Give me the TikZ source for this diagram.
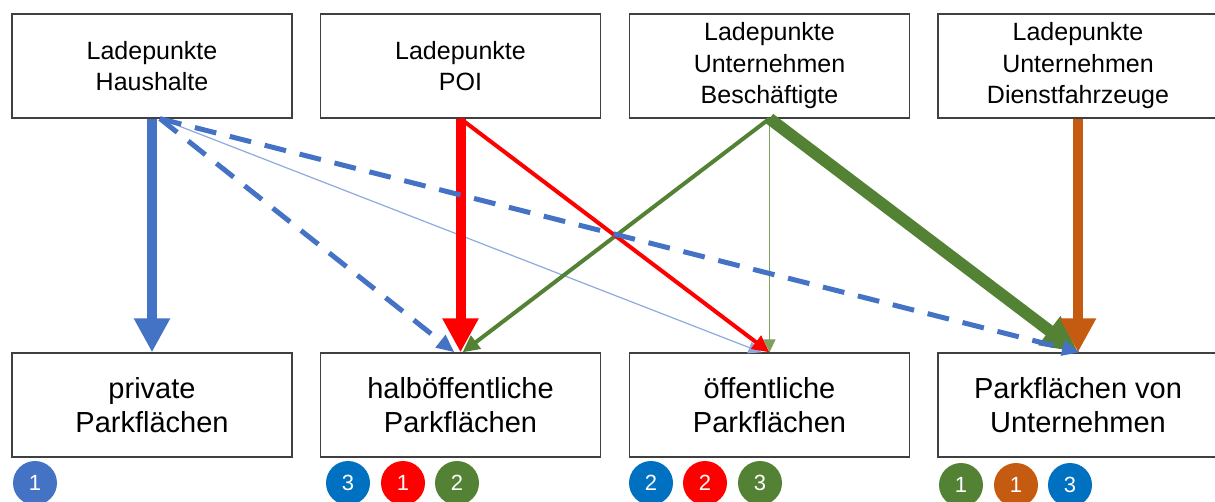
\documentclass[tikz,border=0pt]{standalone}
\usepackage{fontspec}
\setmainfont{Liberation Sans}
\usetikzlibrary{arrows.meta}
\definecolor{cblue}{HTML}{4472C4}
\definecolor{cltblue}{HTML}{8FAADC}
\definecolor{cdblue}{HTML}{0070C0}
\definecolor{cred}{HTML}{FF0000}
\definecolor{cgreen}{HTML}{548235}
\definecolor{cltgreen}{HTML}{7FA05F}
\definecolor{corange}{HTML}{C55A11}
\definecolor{cbox}{HTML}{404040}
\begin{document}
\begin{tikzpicture}[x=1pt,y=-1pt,
 box/.style={draw=cbox, line width=1.3pt, minimum width=280pt, minimum height=104pt, inner sep=0pt, align=center},
 topbox/.style={box, font=\fontsize{25}{31.5}\selectfont},
 botbox/.style={box, font=\fontsize{29}{34}\selectfont},
 badge/.style={circle, minimum size=44pt, inner sep=0pt, text=white, font=\fontsize{22}{22}\selectfont},
 bigarrow/.style={line width=10pt, -{Triangle[length=34pt,width=34pt]}},
 hugearrow/.style={line width=12pt, -{Triangle[length=36pt,width=34pt]}},
 midarrow/.style={line width=4pt, -{Triangle[length=17pt,width=16pt]}},
 thinarrow/.style={line width=1.2pt, -{Triangle[length=13pt,width=12pt]}},
 dasharrow/.style={cblue, line width=5pt, dash pattern=on 22pt off 14pt, -{Triangle[length=18pt,width=15pt]}}
]
\useasboundingbox (0,0) rectangle (1215,501);
% top boxes
\node[topbox] (h) at (152,66) {Ladepunkte\\Haushalte};
\node[topbox] (poi) at (460.5,66) {Ladepunkte\\POI};
\node[topbox] (bes) at (769.5,66) {Ladepunkte\\Unternehmen\\Beschäftigte};
\node[topbox] (dfz) at (1078,66) {Ladepunkte\\Unternehmen\\Dienstfahrzeuge};
% bottom boxes
\node[botbox] (pr) at (152,405) {private\\Parkflächen};
\node[botbox] (hb) at (460.5,405) {halböffentliche\\Parkflächen};
\node[botbox] (oe) at (769.5,405) {öffentliche\\Parkflächen};
\node[botbox] (un) at (1078,405) {Parkflächen von\\Unternehmen};
% badges
\node[badge, fill=cblue] (b1) at (35,483) {1};
\node[badge, fill=cdblue] (b2) at (348,483) {3};
\node[badge, fill=cred] (b3) at (403,483) {1};
\node[badge, fill=cgreen] (b4) at (457,483) {2};
\node[badge, fill=cdblue] (b5) at (651,483) {2};
\node[badge, fill=cred] (b6) at (705,483) {2};
\node[badge, fill=cgreen] (b7) at (760,483) {3};
\node[badge, fill=cgreen] (b8) at (961,485) {1};
\node[badge, fill=corange] (b9) at (1016,485) {1};
\node[badge, fill=cdblue] (b10) at (1070,485) {3};
% connectors
\draw[thinarrow, cltblue] ([xshift=8pt]h.south) -- ([xshift=-8pt]oe.north);
\draw[dasharrow] ([xshift=8pt]h.south) -- ([xshift=-6pt]hb.north);
\draw[midarrow, cgreen] (bes.south) -- ([xshift=2pt]hb.north);
\draw[bigarrow, cred] (poi.south) -- (hb.north);
\draw[midarrow, cred] (poi.south) -- (oe.north);
\draw[thinarrow, cltgreen] (bes.south) -- (oe.north);
\draw[hugearrow, cgreen] (bes.south) -- (un.north);
\draw[bigarrow, corange] (dfz.south) -- (un.north);
\draw[dasharrow] ([xshift=8pt]h.south) -- ([xshift=2pt]un.north);
\draw[bigarrow, cblue] (h.south) -- (pr.north);
\end{tikzpicture}
\end{document}
